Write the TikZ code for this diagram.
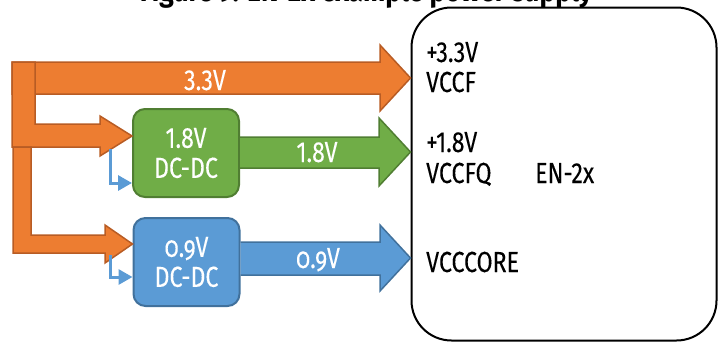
\documentclass[tikz,border=0pt]{standalone}
\usepackage{fontspec}
\setmainfont{Fira Sans}[FakeStretch=0.8,FakeBold=0.15]
\newfontfamily\osf{Fira Sans}[FakeStretch=0.8,FakeBold=0.15,Numbers=OldStyle]
\newfontfamily\titlefont{Fira Sans}[FakeStretch=0.85]
\usetikzlibrary{arrows.meta,calc}
\definecolor{orf}{HTML}{ED7D31}
\definecolor{ord}{HTML}{B85C24}
\definecolor{grf}{HTML}{70AD47}
\definecolor{grd}{HTML}{507E32}
\definecolor{blf}{HTML}{5B9BD5}
\definecolor{bld}{HTML}{41719C}
\tikzset{
  lbl/.style={font=\fontsize{29}{30}\selectfont, inner sep=0pt},
  wlbl/.style={lbl, text=white},
  conv/.style={rounded corners=12pt, line width=2pt, minimum width=106pt, minimum height=88pt, inner sep=0pt, align=center, text=white, font=\fontsize{29}{30}\selectfont},
  orarrow/.style={fill=orf, draw=ord, line width=1.5pt, line join=miter},
  grarrow/.style={fill=grf, draw=grd, line width=1.5pt},
  blarrow/.style={fill=blf, draw=bld, line width=1.5pt},
  sarrow/.style={draw=blf, line width=3pt, -{Triangle[length=14pt,width=15pt]}}
}
\begin{document}
\begin{tikzpicture}[x=1pt,y=-1pt]
\useasboundingbox (0,0) rectangle (719,343);
\begin{scope}
\clip (0,0) rectangle (719,343);
\node[anchor=base, inner sep=0pt, font=\titlefont\fontsize{31}{33}\selectfont\bfseries] (title) at (366,1.5) {Figure 9. EN-2x example power supply};
\end{scope}
% chip
\node[draw, line width=2pt, rounded corners=40pt, minimum width=305pt, minimum height=333pt, inner sep=0pt] (chip) at (564,174) {};
\node[lbl, anchor=base west] (p33) at (426,62) {+3.3V};
\node[lbl, anchor=base west] (vccf) at (426,92) {VCCF};
\node[lbl, anchor=base west] (p18) at (426,152) {+1.8V};
\node[lbl, anchor=base west] (vccfq) at (426,183) {VCCFQ};
\node[lbl, anchor=base west] (en) at (535,183) {EN-2x};
\node[lbl, anchor=base west] (vcore) at (426,272) {VCCCORE};
% converters
\node[conv, fill=grf, draw=grd] (g) at (186,153) {1.8V\\DC-DC};
\node[conv, fill=blf, draw=bld] (b) at (186.5,262) {{\osf 0.9V}\\DC-DC};
% orange 3.3V arrow
\draw[orarrow] (12,62) -- (380,62) -- (380,45) -- (chip.west |- 0,78) -- (380,111) -- (380,94) -- (12,94) -- cycle;
\node[wlbl, anchor=base] (l33) at (205,90) {3.3V};
% upper branch
\draw[orarrow] (12,62) -- (35,62) -- (35,124) -- (100,124) -- (100,116) -- (g.west |- 0,136) -- (100,156) -- (100,147) -- (12,147) -- cycle;
% lower branch
\draw[orarrow] (13,147) -- (31,147) -- (31,235) -- (105,235) -- (105,225) -- (b.west |- 0,244) -- (105,263) -- (105,253) -- (13,253) -- cycle;
% green arrow
\draw[grarrow] (g.east |- 0,137) -- (379,137) -- (379,118) -- (chip.west |- 0,152) -- (379,186) -- (379,168) -- (g.east |- 0,168);
\node[wlbl, anchor=base] (l18) at (317,162) {1.8V};
% blue arrow
\draw[blarrow] (b.east |- 0,242) -- (380,242) -- (380,225) -- (chip.west |- 0,258) -- (380,291) -- (380,275) -- (b.east |- 0,275);
\node[wlbl, anchor=base] (l09) at (318,268) {\osf 0.9V};
% small enable arrows
\draw[sarrow] (110,149) |- (g.west |- 0,183);
\draw[sarrow] (110,255) |- (b.west |- 0,277);
\end{tikzpicture}
\end{document}
